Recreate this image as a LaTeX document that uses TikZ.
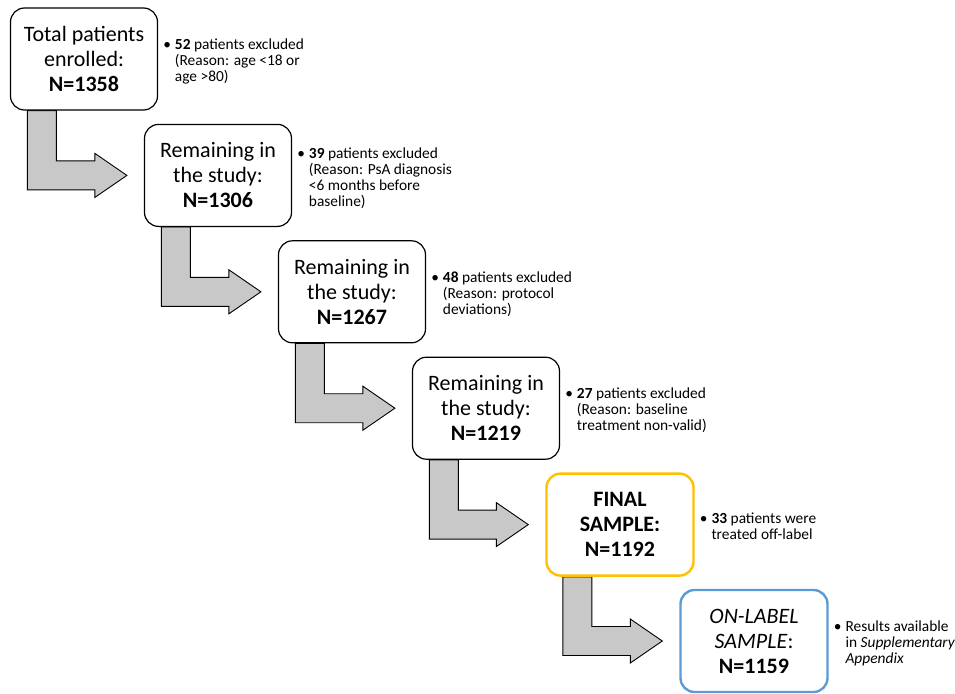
\documentclass[tikz,border=0pt]{standalone}
\usepackage{fontspec}
\setmainfont{Carlito}
\usetikzlibrary{positioning, calc, backgrounds}
\definecolor{goldline}{HTML}{FFC000}
\definecolor{blueline}{HTML}{5B9BD5}
\definecolor{arrowgray}{HTML}{C8C8C8}

\begin{document}
\begin{tikzpicture}[x=1pt,y=1pt,node distance=116.4pt and 134pt,on grid,
	box/.style={draw,line width=1.2pt,rounded corners=14pt,fill=white,minimum width=147pt,minimum height=102pt,inner sep=0pt,align=center,font=\fontsize{22}{25}\selectfont},
	note/.style={inner sep=0pt,yshift=-3.5pt,font=\fontsize{15.4}{16}\selectfont},
	bentarrow/.style={draw,line width=0.9pt,fill=arrowgray}]
				\useasboundingbox (0,0) rectangle (955,-693);
				\node[box] (N1) at (84,-59) {Total patients\\enrolled:\\\textbf{N=1358}};
				\node[box] (N2) [below right=of N1] {Remaining in\\the study:\\\textbf{N=1306}};
				\node[box] (N3) [below right=of N2] {Remaining in\\the study:\\\textbf{N=1267}};
				\node[box] (N4) [below right=of N3] {Remaining in\\the study:\\\textbf{N=1219}};
				\node[box,draw=goldline,line width=2.4pt] (N5) [below right=of N4] {\textbf{FINAL}\\\textbf{SAMPLE:}\\\textbf{N=1192}};
				\node[box,draw=blueline,line width=2.4pt] (N6) [below right=of N5] {\textit{ON-LABEL}\\\textit{SAMPLE}:\\\textbf{N=1159}};
				
				\node[note] (R1) [right=5pt of N1.east,anchor=west] {\begin{tabular}{@{}l@{\hspace{4pt}}l@{}}\textbullet&\textbf{52} patients excluded\\&(Reason: age <18 or\\&age >80)\end{tabular}};
				\node[note] (R2) [right=5pt of N2.east,anchor=west] {\begin{tabular}{@{}l@{\hspace{4pt}}l@{}}\textbullet&\textbf{39} patients excluded\\&(Reason: PsA diagnosis\\&<6 months before\\&baseline)\end{tabular}};
				\node[note] (R3) [right=5pt of N3.east,anchor=west] {\begin{tabular}{@{}l@{\hspace{4pt}}l@{}}\textbullet&\textbf{48} patients excluded\\&(Reason: protocol\\&deviations)\end{tabular}};
				\node[note] (R4) [right=5pt of N4.east,anchor=west] {\begin{tabular}{@{}l@{\hspace{4pt}}l@{}}\textbullet&\textbf{27} patients excluded\\&(Reason: baseline\\&treatment non-valid)\end{tabular}};
				\node[note] (R5) [right=5pt of N5.east,anchor=west] {\begin{tabular}{@{}l@{\hspace{4pt}}l@{}}\textbullet&\textbf{33} patients were\\&treated off-label\end{tabular}};
				\node[note] (R6) [right=5pt of N6.east,anchor=west] {\begin{tabular}{@{}l@{\hspace{4pt}}l@{}}\textbullet&Results available\\&in \textit{Supplementary}\\&\textit{Appendix}\end{tabular}};
				
				% bent arrows between the boxes
				\begin{scope}[on background layer]
				\foreach \a/\b in {N1/N2,N2/N3,N3/N4,N4/N5,N5/N6}
					\draw[bentarrow] let \p1=(\a.south west), \p2=(\b.west) in
						(\x1+17.5pt,\y1) -- (\x1+17.5pt,\y2-14.5pt) -- (\x2-49pt,\y2-14.5pt) -- (\x2-49pt,\y2-22pt)
						-- (\x2-17pt,\y2) -- (\x2-49pt,\y2+22pt) -- (\x2-49pt,\y2+14.5pt) -- (\x1+46.5pt,\y2+14.5pt)
						-- (\x1+46.5pt,\y1) -- cycle;
				\end{scope}
			\end{tikzpicture}
\end{document}
